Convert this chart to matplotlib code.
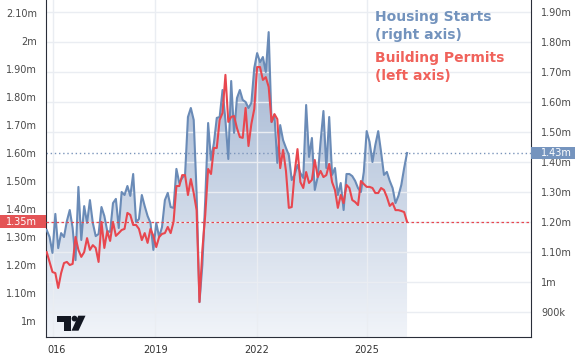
import numpy as np
import matplotlib
matplotlib.use('Agg')
import matplotlib.pyplot as plt
from matplotlib.patches import Rectangle, Polygon, Circle
from matplotlib.transforms import blended_transform_factory, Affine2D

# Housing starts (right axis, millions, SAAR)
starts = [
    1.173, 1.150, 1.097, 1.227, 1.113, 1.163, 1.150, 1.203, 1.240, 1.180,
    1.073, 1.317, 1.140, 1.253, 1.197, 1.273, 1.197, 1.153, 1.160, 1.250,
    1.220, 1.170, 1.167, 1.263, 1.277, 1.180, 1.300, 1.290, 1.320, 1.287,
    1.360, 1.200, 1.210, 1.290, 1.253, 1.220, 1.197, 1.107, 1.197, 1.150,
    1.183, 1.273, 1.297, 1.250, 1.247, 1.377, 1.330, 1.347, 1.357, 1.550,
    1.580, 1.540, 1.297, 0.933, 1.057, 1.273, 1.530, 1.407, 1.463, 1.547,
    1.550, 1.640, 1.540, 1.410, 1.670, 1.497, 1.613, 1.640, 1.607, 1.600,
    1.580, 1.597, 1.713, 1.763, 1.733, 1.750, 1.700, 1.833, 1.533, 1.557,
    1.397, 1.523, 1.473, 1.447, 1.423, 1.340, 1.357, 1.390, 1.363, 1.347,
    1.590, 1.417, 1.480, 1.307, 1.350, 1.467, 1.570, 1.380, 1.550, 1.357,
    1.380, 1.290, 1.330, 1.240, 1.360, 1.360, 1.353, 1.337, 1.313, 1.300,
    1.367, 1.503, 1.467, 1.400, 1.457, 1.503, 1.433, 1.357, 1.367, 1.337,
    1.313, 1.263, 1.287, 1.323, 1.380, 1.430]

# Building permits (left axis, millions, SAAR)
permits = [
    1.246, 1.211, 1.175, 1.171, 1.118, 1.171, 1.207, 1.211, 1.200, 1.204,
    1.300, 1.254, 1.229, 1.246, 1.296, 1.254, 1.271, 1.261, 1.211, 1.354,
    1.261, 1.321, 1.286, 1.354, 1.304, 1.314, 1.325, 1.329, 1.386, 1.379,
    1.343, 1.343, 1.329, 1.289, 1.314, 1.279, 1.329, 1.304, 1.264, 1.300,
    1.311, 1.314, 1.336, 1.314, 1.354, 1.482, 1.482, 1.521, 1.521, 1.450,
    1.507, 1.457, 1.396, 1.068, 1.254, 1.379, 1.543, 1.525, 1.618, 1.618,
    1.718, 1.743, 1.879, 1.711, 1.729, 1.732, 1.689, 1.657, 1.654, 1.761,
    1.625, 1.704, 1.757, 1.907, 1.907, 1.861, 1.871, 1.836, 1.711, 1.739,
    1.721, 1.546, 1.611, 1.536, 1.404, 1.407, 1.529, 1.614, 1.496, 1.475,
    1.532, 1.493, 1.504, 1.575, 1.514, 1.536, 1.514, 1.521, 1.561, 1.496,
    1.468, 1.404, 1.450, 1.421, 1.486, 1.475, 1.432, 1.425, 1.414, 1.500,
    1.489, 1.479, 1.479, 1.475, 1.457, 1.457, 1.475, 1.468, 1.443, 1.411,
    1.421, 1.396, 1.396, 1.393, 1.389, 1.354]

left_ticks = [1.0, 1.1, 1.2, 1.3, 1.4, 1.5, 1.6, 1.7, 1.8, 1.9, 2.0, 2.1]
left_labels = ['1m', '1.10m', '1.20m', '1.30m', '1.40m', '1.50m', '1.60m',
               '1.70m', '1.80m', '1.90m', '2m', '2.10m']
right_ticks = [0.9, 1.0, 1.1, 1.2, 1.3, 1.4, 1.5, 1.6, 1.7, 1.8, 1.9]
right_labels = ['900k', '1m', '1.10m', '1.20m', '1.30m', '1.40m', '1.50m',
                '1.60m', '1.70m', '1.80m', '1.90m']
year_labels = ['016', '2019', '2022', '2025']
year_bar_index = [2.2, 37.6, 73.0, 111.1]
last_start_label = '1.43m'
last_permit_label = '1.35m'

BLUE = '#6a8bb7'
RED = '#e8474f'
W, H = 575, 356

fig = plt.figure(figsize=(W / 100, H / 100), dpi=100)
fig.patch.set_facecolor('white')
ax = fig.add_axes([46 / W, 19 / H, 485 / W, 337 / H])
ax2 = ax.twinx()

x = np.arange(len(starts))
XL = (-0.24, 168.0)
YR = (0.8167, 1.94)      # right axis (starts)
YL = (0.9429, 2.1464)    # left axis (permits)

# gradient area under housing starts
poly = ax.fill_between(x, starts, YR[0], facecolor='none', edgecolor='none')
g = np.linspace(0, 1, 256)[:, None, None]
top = np.array([150, 172, 204]) / 255
bot = np.array([241, 244, 249]) / 255
img = top * (1 - g) + bot * g
im = ax.imshow(img, extent=[XL[0], XL[1], YR[0], YR[1]], aspect='auto',
               origin='upper', zorder=1, interpolation='bilinear')
im.set_clip_path(poly.get_paths()[0], transform=ax.transData)

ax.plot(x, starts, color=BLUE, lw=1.5, zorder=3, solid_joinstyle='round')
ax.axhline(starts[-1], color='#7b95bb', lw=1.0, ls=(0, (1, 2)), zorder=2)

ax2.plot(x, permits, color=RED, lw=1.5, zorder=3, solid_joinstyle='round')
ax2.axhline(permits[-1], color=RED, lw=0.9, ls=(0, (2, 2)), zorder=2)

ax.set_xlim(*XL)
ax.set_ylim(*YR)
ax2.set_ylim(*YL)

# axes / ticks
ax.yaxis.tick_right()
ax.yaxis.set_label_position('right')
ax2.yaxis.tick_left()
ax2.yaxis.set_label_position('left')
ax.set_yticks(right_ticks)
ax.set_yticklabels(right_labels)
ax2.set_yticks(left_ticks)
ax2.set_yticklabels(left_labels)
ax.set_xticks(year_bar_index)
ax.set_xticklabels([''] + year_labels[1:])

ax.set_axisbelow('line')
ax.grid(True, color='#eaedf2', lw=1.0)
ax2.grid(False)

ax.tick_params(axis='y', length=0, pad=7.2, labelsize=7, labelcolor='#4a4a4a')
ax2.tick_params(axis='y', length=0, pad=6.5, labelsize=7, labelcolor='#4a4a4a')
ax.tick_params(axis='x', length=0, pad=6, labelsize=7, labelcolor='#333333')
ax.annotate(year_labels[0], xy=(0, 0), xycoords='axes fraction',
            xytext=(0.8, -6), textcoords='offset points', ha='left', va='top',
            fontsize=7, color='#333333')

ax.spines['top'].set_visible(False)
for s in ax2.spines.values():
    s.set_visible(False)
for s in ['left', 'right', 'bottom']:
    ax.spines[s].set_color('#2a2e39')
    ax.spines[s].set_linewidth(0.8)

# last-value labels
trL = blended_transform_factory(fig.transFigure, ax2.transData)
hL = 13 * (YL[1] - YL[0]) / 337
fig.add_artist(Rectangle((0, permits[-1] - hL / 2), 46 / W, hL, transform=trL,
                         facecolor='#e45456', edgecolor='none', zorder=4))
fig.text(37 / W, permits[-1], last_permit_label, transform=trL, ha='right',
         va='center', fontsize=7, color='white', zorder=5)

trR = blended_transform_factory(fig.transFigure, ax.transData)
hR = 12 * (YR[1] - YR[0]) / 337
fig.add_artist(Rectangle((531 / W, starts[-1] - hR / 2), 44 / W, hR, transform=trR,
                         facecolor='#7594be', edgecolor='none', zorder=4))
fig.text(541 / W, starts[-1], last_start_label, transform=trR, ha='left',
         va='center', fontsize=7, color='white', zorder=5)

# legend texts
leg = [('Housing Starts', 21, '#7393bd'), ('(right axis)', 39.5, '#7393bd'),
       ('Building Permits', 62, '#f0625b'), ('(left axis)', 80.5, '#f0625b')]
for s, yb, c in leg:
    fig.text(375 / W, 1 - yb / H, s, color=c, fontsize=10, fontweight='bold',
             va='baseline', ha='left', zorder=6)

# TradingView logo (decoration)
px = Affine2D().scale(1 / W, -1 / H).translate(0, 1) + fig.transFigure
LOGO = '#131722'
fig.add_artist(Polygon([(57.3, 315.7), (70.7, 315.7), (70.7, 330.7), (63.5, 330.7),
                        (63.5, 321.5), (57.3, 321.5)], closed=True, transform=px,
                       facecolor=LOGO, edgecolor='none', zorder=6))
fig.add_artist(Circle((74.5, 318.6), 2.9, transform=px, facecolor=LOGO,
                      edgecolor='none', zorder=6))
fig.add_artist(Polygon([(78.3, 315.7), (85.5, 315.7), (78.5, 330.7), (71.5, 330.7)],
                       closed=True, transform=px, facecolor=LOGO, edgecolor='none',
                       zorder=6))

fig.savefig('out.png', dpi=100)
